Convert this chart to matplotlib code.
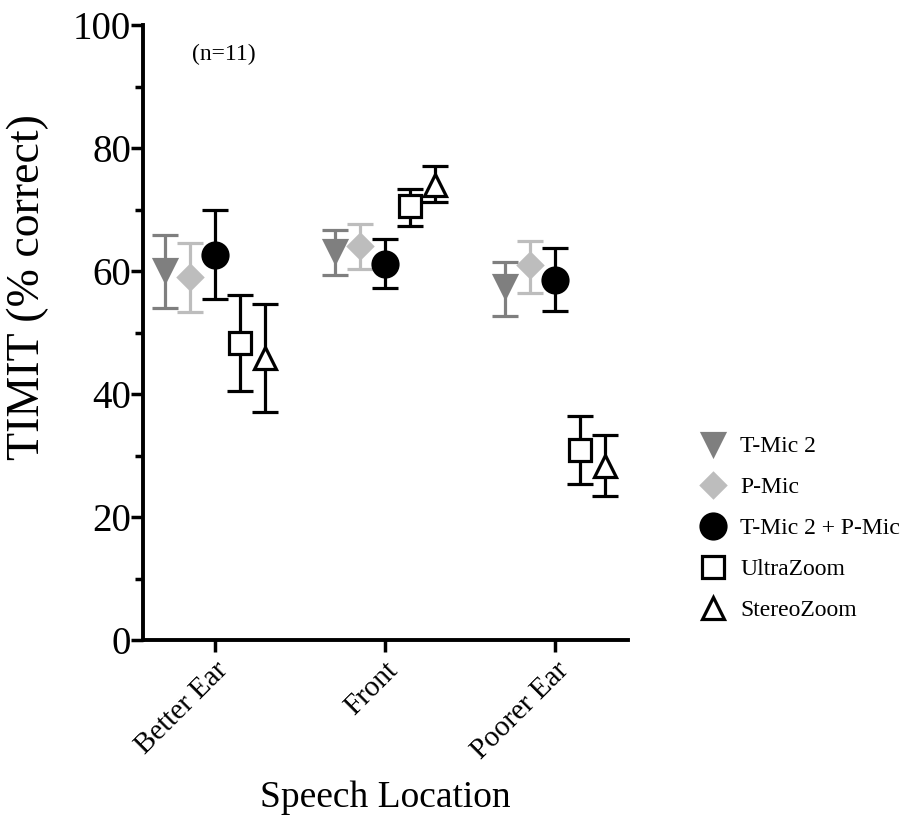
import numpy as np
import matplotlib
matplotlib.use("Agg")
import matplotlib.pyplot as plt
from matplotlib.lines import Line2D
from matplotlib.ticker import MultipleLocator

plt.rcParams['font.family'] = ['Liberation Serif', 'DejaVu Serif']

locations = ["Better Ear", "Front", "Poorer Ear"]
series_names = ["T-Mic 2", "P-Mic", "T-Mic 2 + P-Mic", "UltraZoom", "StereoZoom"]

tmic2_mean = [60.2, 63.3, 57.6]
tmic2_low = [54.0, 59.3, 52.7]
tmic2_high = [65.9, 66.7, 61.5]

pmic_mean = [59.0, 64.0, 61.0]
pmic_low = [53.3, 60.3, 56.5]
pmic_high = [64.6, 67.6, 64.9]

combo_mean = [62.6, 61.2, 58.6]
combo_low = [55.4, 57.3, 53.5]
combo_high = [70.0, 65.2, 63.8]

ultra_mean = [48.3, 70.5, 30.9]
ultra_low = [40.5, 67.3, 25.3]
ultra_high = [56.1, 73.3, 36.5]

stereo_mean = [45.8, 74.0, 28.3]
stereo_low = [37.1, 71.3, 23.4]
stereo_high = [54.7, 77.1, 33.3]

means = [tmic2_mean, pmic_mean, combo_mean, ultra_mean, stereo_mean]
lows = [tmic2_low, pmic_low, combo_low, ultra_low, stereo_low]
highs = [tmic2_high, pmic_high, combo_high, ultra_high, stereo_high]

styles = [
    dict(marker='v', color='#7f7f7f', mfc='#7f7f7f', ms=16),
    dict(marker='D', color='#bdbdbd', mfc='#bdbdbd', ms=12),
    dict(marker='o', color='black', mfc='black', ms=18),
    dict(marker='s', color='black', mfc='white', ms=16),
    dict(marker='^', color='black', mfc='white', ms=16),
]
offsets = [-0.294, -0.147, 0.0, 0.147, 0.294]

fig = plt.figure(figsize=(9.08, 8.36), dpi=100)
ax = fig.add_axes([0.1575, 0.2344, 0.5341, 0.7356])

x = np.arange(len(locations))
for m, lo, hi, st, off in zip(means, lows, highs, styles, offsets):
    m = np.array(m)
    yerr = np.vstack([m - np.array(lo), np.array(hi) - m])
    ax.errorbar(x + off, m, yerr=yerr, fmt='none', ecolor=st['color'],
                elinewidth=2.3, capsize=9.5, capthick=2.3, zorder=2)
    ax.plot(x + off, m, linestyle='none', marker=st['marker'],
            markersize=st['ms'], markerfacecolor=st['mfc'],
            markeredgecolor=st['color'], markeredgewidth=2.3, zorder=3)

ax.set_xlim(-0.4235, 2.429)
ax.set_ylim(0, 100)
ax.yaxis.set_major_locator(MultipleLocator(20))
ax.yaxis.set_minor_locator(MultipleLocator(10))
ax.set_xticks(x)
ax.set_xticklabels(locations, rotation=45, ha='right', rotation_mode='anchor',
                   fontsize=21)
ax.tick_params(axis='y', which='major', length=8.5, width=2.5, labelsize=28, pad=0)
ax.tick_params(axis='y', which='minor', length=5.5, width=2.5)
ax.tick_params(axis='x', which='major', length=8.5, width=2.5, pad=4)

for side in ['top', 'right']:
    ax.spines[side].set_visible(False)
for side in ['left', 'bottom']:
    ax.spines[side].set_linewidth(2.8)

ax.set_ylabel("TIMIT (% correct)", fontsize=33)
ax.yaxis.set_label_coords(-0.194, 0.574)
ax.set_xlabel("Speech Location", fontsize=27, labelpad=12)

ax.text(0.10, 0.97, "(n=11)", transform=ax.transAxes, fontsize=17,
        ha='left', va='top')

handles = []
for name, st in zip(series_names, styles):
    handles.append(Line2D([], [], linestyle='none', marker=st['marker'],
                          markersize=st['ms'], markerfacecolor=st['mfc'],
                          markeredgecolor=st['color'], markeredgewidth=2.3,
                          label=name))
fig.legend(handles=handles, loc='upper left', bbox_to_anchor=(0.762, 0.49),
           frameon=False, fontsize=17, handlelength=1.0, handletextpad=0.65,
           labelspacing=0.82, borderaxespad=0)

fig.savefig("out.png", dpi=100, facecolor='white')
